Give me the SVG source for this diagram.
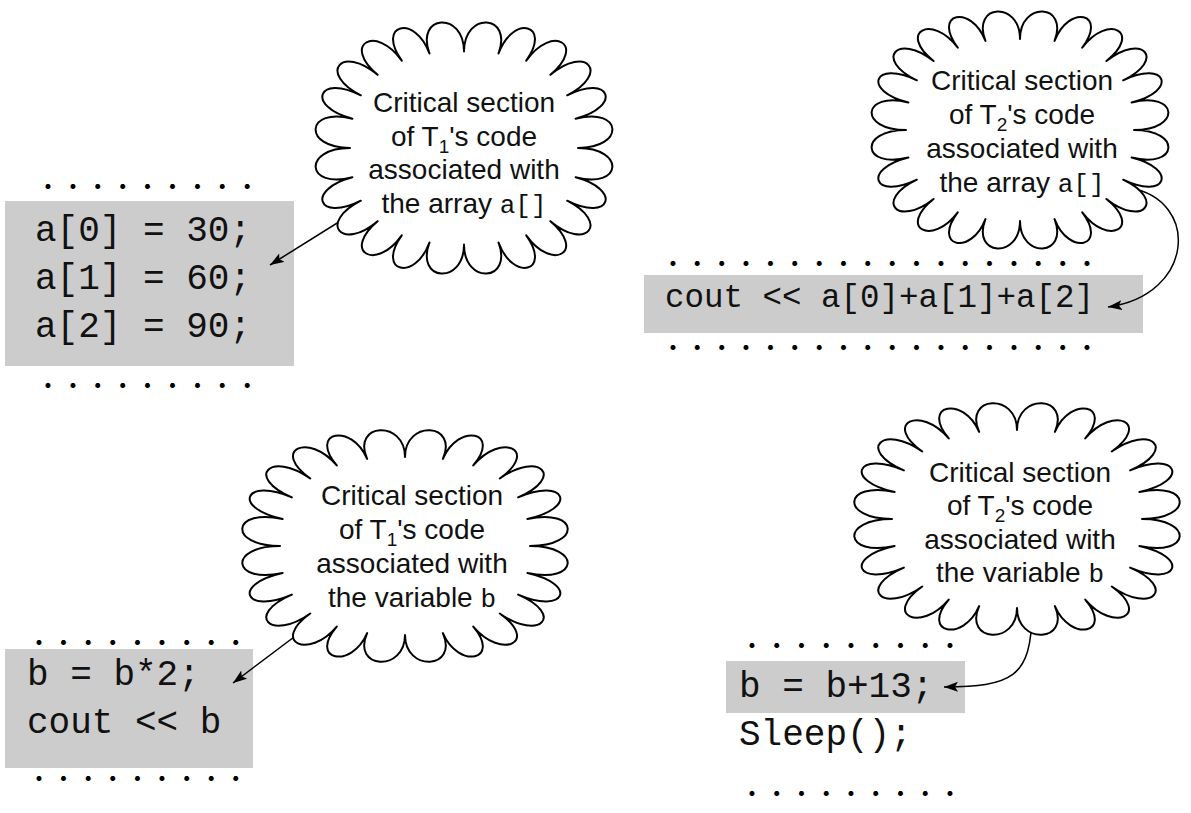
<svg xmlns="http://www.w3.org/2000/svg" xmlns:xlink="http://www.w3.org/1999/xlink" width="1191" height="813" viewBox="0 0 1191 813">
  <style>
    .code { font-family: "Liberation Mono", "Courier New", monospace; fill: #111; }
    .big { font-size: 36px; }
    .mid { font-size: 32.5px; }
    .dots { font-family: Lato, "Liberation Sans", Arial, sans-serif; font-size: 40px; fill: #000; }
    .note { font-family: "Liberation Sans", Arial, sans-serif; font-size: 28px; fill: #111; text-anchor: middle; }
    .note .mono { font-family: "Liberation Mono", "Courier New", monospace; font-size: 26px; }
    .note .sub { font-size: 19px; }
    .band { fill: #cccccc; }
    .cloud { fill: #ffffff; stroke: #000; stroke-width: 2; stroke-linejoin: round; vector-effect: non-scaling-stroke; }
    .link { fill: none; stroke: #000; stroke-width: 1.5; marker-end: url(#head); }
  </style>
  <defs>
    <marker id="head" viewBox="0 0 14 10" refX="14" refY="5" markerWidth="14" markerHeight="10" markerUnits="userSpaceOnUse" orient="auto">
      <path d="M0,0 L14,5 L0,10 L3,5 Z" fill="#000"/>
    </marker>
    <!-- unit cloud outline: 24 deep scallops on a rounded (superellipse) ring -->
    <path id="cloud" class="cloud" d="M1,0
      C1.42,0 1.390,.430 .979,.303
      C1.390,.430 1.285,.775 .905,.546
      C1.285,.775 1.076,1.076 .758,.758
      C1.076,1.076 .775,1.285 .546,.905
      C.775,1.285 .430,1.390 .303,.979
      C.430,1.390 0,1.42 0,1
      C0,1.42 -.430,1.390 -.303,.979
      C-.430,1.390 -.775,1.285 -.546,.905
      C-.775,1.285 -1.076,1.076 -.758,.758
      C-1.076,1.076 -1.285,.775 -.905,.546
      C-1.285,.775 -1.390,.430 -.979,.303
      C-1.390,.430 -1.42,0 -1,0
      C-1.42,0 -1.390,-.430 -.979,-.303
      C-1.390,-.430 -1.285,-.775 -.905,-.546
      C-1.285,-.775 -1.076,-1.076 -.758,-.758
      C-1.076,-1.076 -.775,-1.285 -.546,-.905
      C-.775,-1.285 -.430,-1.390 -.303,-.979
      C-.430,-1.390 0,-1.42 0,-1
      C0,-1.42 .430,-1.390 .303,-.979
      C.430,-1.390 .775,-1.285 .546,-.905
      C.775,-1.285 1.076,-1.076 .758,-.758
      C1.076,-1.076 1.285,-.775 .905,-.546
      C1.285,-.775 1.390,-.430 .979,-.303
      C1.390,-.430 1.42,0 1,0 Z"/>
  </defs>

  <rect width="1191" height="813" fill="#ffffff"/>

  <!-- Thread 1: writes to a[] -->
  <g id="t1-array-code">
    <text class="dots" x="43.25" y="188.5" textLength="208.7">.........</text>
    <rect class="band" x="5" y="201" width="289" height="165"/>
    <text class="code big" x="35" y="241">a[0] = 30;</text>
    <text class="code big" x="35" y="289">a[1] = 60;</text>
    <text class="code big" x="35" y="337">a[2] = 90;</text>
    <text class="dots" x="43.25" y="388" textLength="208.7">.........</text>
  </g>

  <!-- Thread 2: reads a[] -->
  <g id="t2-array-code">
    <text class="dots" x="668.25" y="265.5" textLength="423.5">..................</text>
    <rect class="band" x="644" y="275" width="499" height="58"/>
    <text class="code mid" x="665" y="307">cout &lt;&lt; a[0]+a[1]+a[2]</text>
    <text class="dots" x="668.25" y="349.5" textLength="423.5">..................</text>
  </g>

  <!-- Thread 1: uses b -->
  <g id="t1-var-code">
    <text class="dots" x="34.25" y="644.5" textLength="206.3">.........</text>
    <rect class="band" x="5" y="649" width="248" height="119"/>
    <text class="code big" x="27" y="685">b = b*2;</text>
    <text class="code big" x="27" y="733">cout &lt;&lt; b</text>
    <text class="dots" x="34.25" y="780.5" textLength="206.3">.........</text>
  </g>

  <!-- Thread 2: updates b -->
  <g id="t2-var-code">
    <text class="dots" x="747.25" y="647.5" textLength="207.5">.........</text>
    <rect class="band" x="726" y="661" width="239" height="52"/>
    <text class="code big" x="739" y="697">b = b+13;</text>
    <text class="code big" x="739" y="745">Sleep();</text>
    <text class="dots" x="747.25" y="795.5" textLength="207.5">.........</text>
  </g>

  <!-- Pointers from each cloud to its code region (start hidden under the cloud) -->
  <g id="connectors">
    <path class="link" d="M350,215 L270,265"/>
    <path class="link" d="M1130,188 C1200,200 1195,295 1108,307"/>
    <path class="link" d="M314,622 L233,683"/>
    <path class="link" d="M1032,610 C1032,680 1010,686 944,687"/>
  </g>

  <!-- Callout clouds -->
  <g id="note-t1-array">
    <use xlink:href="#cloud" transform="translate(464,148) scale(114,96.5)"/>
    <text class="note" x="464" y="112">Critical section</text>
    <text class="note" x="464" y="146">of T<tspan class="sub" dy="7">1</tspan><tspan dy="-7">'s code</tspan></text>
    <text class="note" x="464" y="179">associated with</text>
    <text class="note" x="464" y="213">the array <tspan class="mono">a[]</tspan></text>
  </g>

  <g id="note-t2-array">
    <use xlink:href="#cloud" transform="translate(1020,130) scale(114,91)"/>
    <text class="note" x="1022" y="90">Critical section</text>
    <text class="note" x="1022" y="124">of T<tspan class="sub" dy="7">2</tspan><tspan dy="-7">'s code</tspan></text>
    <text class="note" x="1022" y="158">associated with</text>
    <text class="note" x="1022" y="192">the array <tspan class="mono">a[]</tspan></text>
  </g>

  <g id="note-t1-var">
    <use xlink:href="#cloud" transform="translate(405,546) scale(125,89)"/>
    <text class="note" x="412" y="505">Critical section</text>
    <text class="note" x="412" y="539">of T<tspan class="sub" dy="7">1</tspan><tspan dy="-7">'s code</tspan></text>
    <text class="note" x="412" y="573">associated with</text>
    <text class="note" x="412" y="607">the variable <tspan class="mono">b</tspan></text>
  </g>

  <g id="note-t2-var">
    <use xlink:href="#cloud" transform="translate(1017,519) scale(125,89)"/>
    <text class="note" x="1020" y="482">Critical section</text>
    <text class="note" x="1020" y="515">of T<tspan class="sub" dy="7">2</tspan><tspan dy="-7">'s code</tspan></text>
    <text class="note" x="1020" y="549">associated with</text>
    <text class="note" x="1020" y="582">the variable <tspan class="mono">b</tspan></text>
  </g>
</svg>
